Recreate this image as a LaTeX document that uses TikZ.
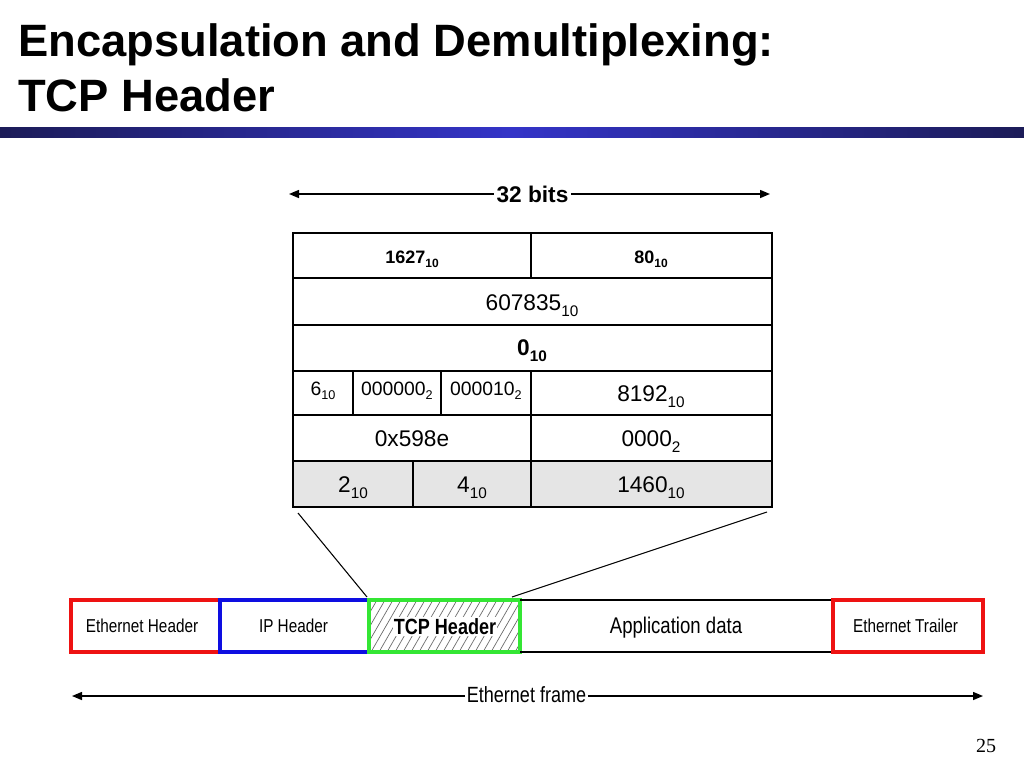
\documentclass[tikz,border=0pt]{standalone}
\usepackage{fontspec}
\usepackage{graphicx}
\setmainfont{Liberation Sans}
\newfontfamily\seriffont{Liberation Serif}
\usetikzlibrary{arrows.meta}
\newcommand\fs[1]{\fontsize{#1}{#1}\selectfont}
\newcommand\lo[3]{\raisebox{-#1}{\fs{#2}#3}}
\newcommand\nar[1]{\scalebox{0.82}[1]{#1}}
\definecolor{navyedge}{RGB}{28,28,88}
\definecolor{barmid}{RGB}{52,52,200}
\definecolor{frred}{RGB}{238,18,18}
\definecolor{frblue}{RGB}{14,14,225}
\definecolor{frgreen}{RGB}{52,230,52}
\definecolor{cellgray}{RGB}{229,229,229}
\begin{document}
\begin{tikzpicture}[x=0.75pt,y=-0.75pt,
  tbl/.style={line width=1.1pt},
  thickdiv/.style={line width=1.9pt},
  cellt/.style={anchor=base, inner sep=0pt},
  frm/.style={line width=2.3pt},
  arr/.style={line width=1.1pt, -{Triangle[length=7.5pt,width=6pt]}},
  hatchln/.style={black!60, line width=0.5pt},
  zoomln/.style={line width=0.8pt}]
\useasboundingbox (0,0) rectangle (1024,768);
\fill[white] (0,0) rectangle (1024,768);

% title
\node[anchor=base west, inner sep=0pt] (t1) at (18,56) {\fs{34}\bfseries Encapsulation and Demultiplexing:};
\node[anchor=base west, inner sep=0pt] (t2) at (18,111) {\fs{34}\bfseries TCP Header};
\shade[left color=navyedge, right color=navyedge, middle color=barmid] (0,127) rectangle (1024,137);

% 32 bits arrow
\coordinate (b32l) at (289,194);
\coordinate (b32r) at (770,194);
\node[cellt, inner xsep=2pt] (b32) at (532.5,202) {\fs{17}\bfseries 32 bits};
\draw[arr] (b32.west |- b32l) -- (b32l);
\draw[arr] (b32.east |- b32r) -- (b32r);

% table
\fill[cellgray] (293,461) rectangle (772,507);
\draw[tbl] (293,233) rectangle (772,507);
\draw[tbl] (293,278) -- (772,278) (293,325) -- (772,325) (293,371) -- (772,371)
           (293,415) -- (772,415) (293,461) -- (772,461);
\draw[tbl] (531,233) -- (531,278);
\draw[tbl] (353,371) -- (353,415) (441,371) -- (441,415);
\draw[thickdiv] (531,371) -- (531,415);
\draw[tbl] (531,415) -- (531,461);
\draw[thickdiv] (413,461) -- (413,507) (531,461) -- (531,507);

\node[cellt] (f1) at (412,263) {\fs{13.5}\bfseries 1627\lo{3pt}{9}{10}};
\node[cellt] (f2) at (651,263) {\fs{13.5}\bfseries 80\lo{3pt}{9}{10}};
\node[cellt] (f3) at (532,310) {\fs{17}607835\lo{4.5pt}{11.5}{10}};
\node[cellt] (f4) at (532,355) {\fs{17}\bfseries 0\lo{4.5pt}{11.5}{10}};
\node[cellt] (f5) at (323,395) {\fs{14.5}6\lo{3.5pt}{9.5}{10}};
\node[cellt] (f6) at (397,395) {\fs{14.5}000000\lo{3.5pt}{9.5}{2}};
\node[cellt] (f7) at (486,395) {\fs{14.5}000010\lo{3.5pt}{9.5}{2}};
\node[cellt] (f8) at (651,401) {\fs{17}8192\lo{4.5pt}{11.5}{10}};
\node[cellt] (f9) at (412,446) {\fs{17}0x598e};
\node[cellt] (f10) at (651,446) {\fs{17}0000\lo{4.5pt}{11.5}{2}};
\node[cellt] (f11) at (353,492) {\fs{17}2\lo{4.5pt}{11.5}{10}};
\node[cellt] (f12) at (472,492) {\fs{17}4\lo{4.5pt}{11.5}{10}};
\node[cellt] (f13) at (651,492) {\fs{17}1460\lo{4.5pt}{11.5}{10}};

% zoom lines
\coordinate (zl1) at (298,513);
\coordinate (zl2) at (367,597);
\coordinate (zr1) at (767,512);
\coordinate (zr2) at (512,597);
\draw[zoomln] (zl1) -- (zl2);
\draw[zoomln] (zr1) -- (zr2);

% ethernet frame
\draw[frm, frred] (71,600) rectangle (220,652);
\draw[frm, frblue] (220,600) rectangle (369,652);
\begin{scope}
  \clip (369,600) rectangle (520,652);
  \foreach \i in {0,...,23} {
    \draw[hatchln] (339+\i*8,652) -- ++(30,-52);
  }
\end{scope}
\draw[frm, frgreen] (369,600) rectangle (520,652);
\draw[line width=1.1pt] (520,600) -- (833,600) (520,652) -- (833,652);
\draw[frm, frred] (833,600) rectangle (983,652);

\node[cellt] (eh) at (142,632) {\fs{14}\nar{Ethernet Header}};
\node[cellt] (ip) at (293.5,632) {\fs{14}\nar{IP Header}};
\node[cellt, fill=white, inner sep=1pt] (tcp) at (445,634) {\fs{16.5}\bfseries\nar{TCP Header}};
\node[cellt] (app) at (676,633) {\fs{17}\nar{Application data}};
\node[cellt] (et) at (905.5,632) {\fs{14}\nar{Ethernet Trailer}};

% ethernet frame arrow
\coordinate (efl) at (72,696);
\coordinate (efr) at (983,696);
\node[cellt, inner xsep=1pt] (ef) at (526.5,702) {\fs{16.5}\nar{Ethernet frame}};
\draw[arr] (ef.west |- efl) -- (efl);
\draw[arr] (ef.east |- efr) -- (efr);

% page number
\node[cellt] (pg) at (986,752) {\seriffont\fs{15}25};
\end{tikzpicture}
\end{document}
